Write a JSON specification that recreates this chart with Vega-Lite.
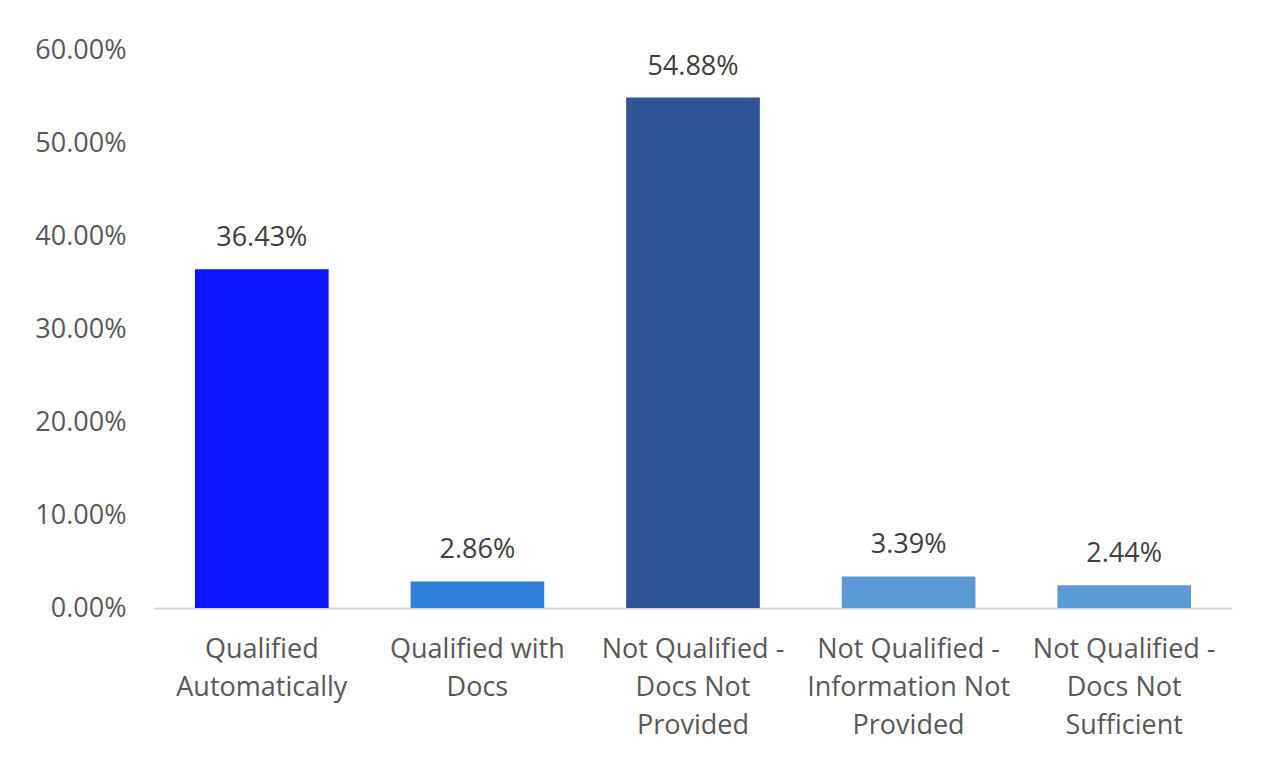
{
  "$schema": "https://vega.github.io/schema/vega-lite/v6.json",
  "width": 1078,
  "height": 558,
  "autosize": {"type": "none"},
  "padding": {"left": 154, "top": 50, "right": 37, "bottom": 153},
  "background": "white",
  "config": {
    "view": {"stroke": null},
    "font": "Open Sans"
  },
  "data": {
    "values": [
      {"category": "Qualified\nAutomatically", "value": 0.3643, "color": "#0A14FF"},
      {"category": "Qualified with\nDocs", "value": 0.0286, "color": "#2E7FD9"},
      {"category": "Not Qualified -\nDocs Not\nProvided", "value": 0.5488, "color": "#2F5597"},
      {"category": "Not Qualified -\nInformation Not\nProvided", "value": 0.0339, "color": "#5B9BD5"},
      {"category": "Not Qualified -\nDocs Not\nSufficient", "value": 0.0244, "color": "#5B9BD5"}
    ]
  },
  "encoding": {
    "x": {
      "field": "category",
      "type": "nominal",
      "sort": null,
      "scale": {"paddingInner": 0.38, "paddingOuter": 0.19},
      "axis": {
        "title": null,
        "labelAngle": 0,
        "labelExpr": "split(datum.label, '\\n')",
        "labelFontSize": 27,
        "labelColor": "#595959",
        "labelLineHeight": 38,
        "labelBaseline": "top",
        "labelPadding": 28,
        "labelLimit": 400,
        "labelOverlap": false,
        "ticks": false,
        "domainColor": "#D9D9D9",
        "domainWidth": 2
      }
    },
    "y": {
      "field": "value",
      "type": "quantitative",
      "scale": {"domain": [0, 0.6], "nice": false},
      "axis": {
        "title": null,
        "format": ".2%",
        "values": [0, 0.1, 0.2, 0.3, 0.4, 0.5, 0.6],
        "labelOverlap": false,
        "grid": false,
        "domain": false,
        "ticks": false,
        "labelFontSize": 27,
        "labelColor": "#595959",
        "labelPadding": 28
      }
    }
  },
  "layer": [
    {
      "mark": {"type": "bar"},
      "encoding": {
        "color": {"field": "color", "type": "nominal", "scale": null}
      }
    },
    {
      "mark": {"type": "text", "dy": -31, "fontSize": 27, "color": "#404040", "baseline": "middle"},
      "encoding": {
        "text": {"field": "value", "type": "quantitative", "format": ".2%"}
      }
    }
  ]
}
